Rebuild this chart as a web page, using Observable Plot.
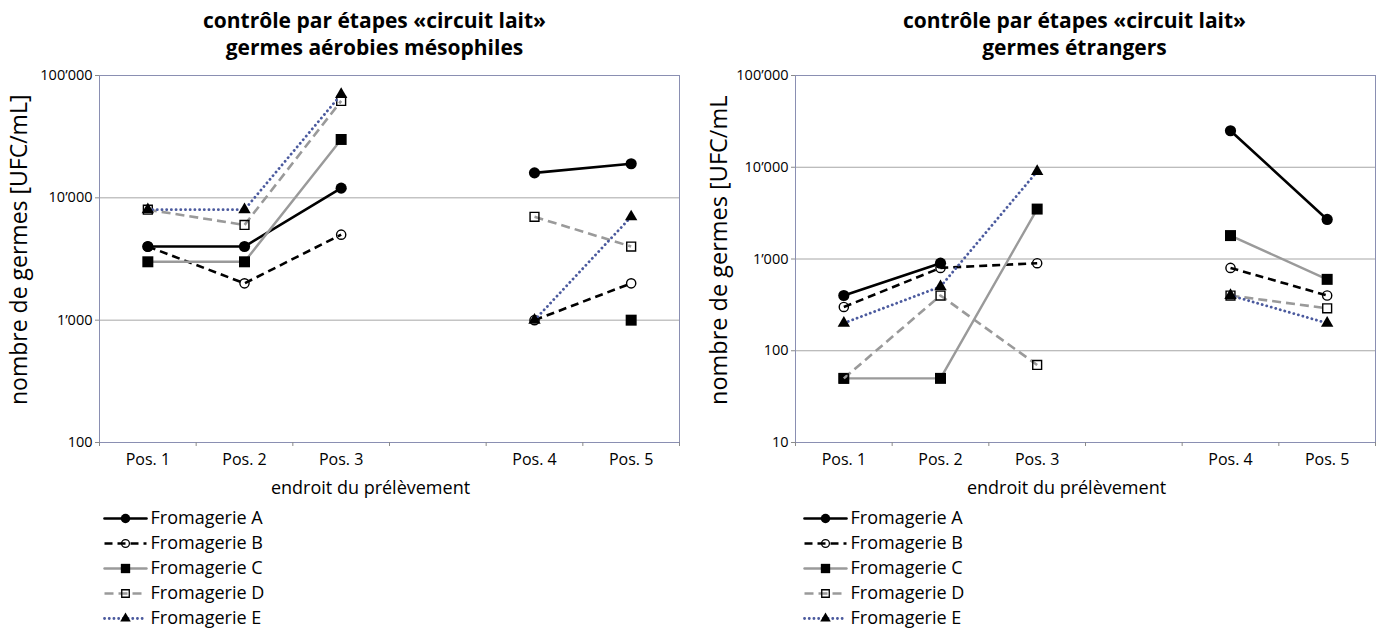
<!DOCTYPE html>
<html><head><meta charset="utf-8">
<script src="https://cdn.jsdelivr.net/npm/d3@7"></script>
<script src="https://cdn.jsdelivr.net/npm/@observablehq/plot@0.6"></script>
<style>
html,body{margin:0;padding:0;background:#fff;}
body{width:1378px;height:630px;overflow:hidden;position:relative;font-family:"Open Sans",sans-serif;color:#000;}
.panel{position:absolute;top:0;width:689px;height:630px;}
.title{position:absolute;top:7px;width:689px;text-align:center;font-weight:bold;font-size:21px;line-height:27px;}
.chart{position:absolute;top:55px;left:0;}
.legend{position:absolute;top:507px;}
svg{overflow:visible;}
</style>
</head><body>
<div class="panel" id="pL" style="left:0"><div class="title" id="tL" style="left:30px"></div><div class="chart" id="cL"></div><div class="legend" id="lL" style="left:104px"></div></div>
<div class="panel" id="pR" style="left:689px"><div class="title" id="tR" style="left:41px"></div><div class="chart" id="cR"></div><div class="legend" id="lR" style="left:115px"></div></div>
<script>
// ---- data ----
const categories = ["Pos. 1", "Pos. 2", "Pos. 3", "", "Pos. 4", "Pos. 5"];
const seriesNames = ["Fromagerie A", "Fromagerie B", "Fromagerie C", "Fromagerie D", "Fromagerie E"];

// germes aérobies mésophiles
const aerobA = [4000, 4000, 12000, null, 16000, 19000];
const aerobB = [4000, 2000, 5000, null, 1000, 2000];
const aerobC = [3000, 3000, 30000, null, null, 1000];
const aerobD = [8000, 6000, 62000, null, 7000, 4000];
const aerobE = [8000, 8000, 70000, null, 1000, 7000];

// germes étrangers
const etrA = [400, 900, null, null, 25000, 2700];
const etrB = [300, 800, 900, null, 800, 400];
const etrC = [50, 50, 3500, null, 1800, 600];
const etrD = [50, 400, 70, null, 400, 290];
const etrE = [200, 500, 9000, null, 400, 200];

const yTicksLeft = [100, 1000, 10000, 100000];
const yLabelsLeft = ["100", "1’000", "10’000", "100’000"];
const yTicksRight = [10, 100, 1000, 10000, 100000];
const yLabelsRight = ["10", "100", "1’000", "10’000", "100’000"];

const titleLine1 = "contrôle par étapes «circuit lait»";
const titleLeft2 = "germes aérobies mésophiles";
const titleRight2 = "germes étrangers";
const yTitleLeft = "nombre de germes [UFC/mL]";
const yTitleRight = "nombre de germes [UFC/mL";
const xTitle = "endroit du prélèvement";

// ---- styles ----
const seriesStyle = [
  {stroke: "#000", strokeWidth: 2.6, dash: null, cap: "round", symbol: "circle", fill: "#000", dotStroke: "none", r: 5.6},
  {stroke: "#000", strokeWidth: 2.6, dash: "8,5", cap: "butt", symbol: "circle", fill: "none", dotStroke: "#000", r: 4.6},
  {stroke: "#9a9a9a", strokeWidth: 2.4, dash: null, cap: "round", symbol: "square", fill: "#000", dotStroke: "none", r: 6.2},
  {stroke: "#9a9a9a", strokeWidth: 2.6, dash: "9,5", cap: "butt", symbol: "square", fill: "none", dotStroke: "#000", r: 5},
  {stroke: "#4b5a9e", strokeWidth: 2.8, dash: "0.1,4.6", cap: "round", symbol: "triangle", fill: "#000", dotStroke: "none", r: 4.6}
];
const FONT = "Open Sans, sans-serif";

function seriesMarks(values, st) {
  const rows = categories.map((c, i) => ({x: i, y: values[i]}));
  const pts = rows.filter(d => d.y != null);
  return [
    Plot.line(rows, {x: "x", y: "y", stroke: st.stroke, strokeWidth: st.strokeWidth,
      strokeDasharray: st.dash || undefined, strokeLinecap: st.cap, strokeLinejoin: "round"}),
    Plot.dot(pts, {x: "x", y: "y", symbol: st.symbol, r: st.r, fill: st.fill,
      stroke: st.dotStroke, strokeWidth: st.dotStroke === "none" ? 0 : 1.4})
  ];
}

function chart({values, yDomain, yTicks, yLabels, yTitle, marginLeft, yTitleDx, yTitleSize}) {
  return Plot.plot({
    width: 689, height: 450,
    marginLeft, marginRight: 689 - marginLeft - 580, marginTop: 20, marginBottom: 63,
    style: {fontFamily: FONT, background: "transparent", color: "#000"},
    x: {type: "linear", domain: [-0.5, 5.5]},
    y: {type: "log", domain: yDomain},
    marks: [
      Plot.ruleY(yTicks, {stroke: "#a6a6a6", strokeWidth: 1}),
      Plot.frame({stroke: "#8a8fb2", strokeWidth: 1}),
      Plot.axisY(yTicks, {tickSize: 4, tickPadding: 3, stroke: "#8a8a8a", fontSize: 14.5,
        tickFormat: d => yLabels[yTicks.indexOf(d)], label: null}),
      Plot.axisX(d3.range(6), {tickSize: 0, tickPadding: 11, fontSize: 16,
        tickFormat: i => categories[i], label: null}),
      Plot.axisX(d3.range(7).map(i => i - 0.5), {tickSize: 4, stroke: "#8a8a8a", tickFormat: () => "", label: null}),
      Plot.text([yTitle], {text: d => d, frameAnchor: "left", textAnchor: "start", rotate: -90, dx: yTitleDx, dy: 146, fontSize: yTitleSize}),
      Plot.text([xTitle], {text: d => d, frameAnchor: "bottom", textAnchor: "middle", dy: 51, dx: -19, fontSize: 18}),
      ...values.flatMap((v, k) => seriesMarks(v, seriesStyle[k]))
    ]
  });
}

function legend() {
  return Plot.plot({
    width: 200, height: 122, marginLeft: 0, marginRight: 0, marginTop: 10, marginBottom: 11,
    style: {fontFamily: FONT, background: "transparent"},
    x: {type: "linear", domain: [0, 42], range: [0, 42], axis: null},
    y: {type: "point", domain: seriesNames, range: [10, 111], padding: 0, axis: null},
    marks: [
      ...seriesNames.flatMap((n, k) => {
        const st = seriesStyle[k];
        return [
          Plot.line([{x: 0, y: n}, {x: 42, y: n}], {x: "x", y: "y", stroke: st.stroke, strokeWidth: st.strokeWidth,
            strokeDasharray: st.dash || undefined, strokeLinecap: st.cap}),
          Plot.dot([{x: 21, y: n}], {x: "x", y: "y", symbol: st.symbol, r: st.r * 0.85, fill: st.fill,
            stroke: st.dotStroke, strokeWidth: st.dotStroke === "none" ? 0 : 1.3})
        ];
      }),
      Plot.text(seriesNames, {x: () => 46, y: d => d, text: d => d, textAnchor: "start", fontSize: 18})
    ]
  });
}

document.getElementById("tL").innerHTML = titleLine1 + "<br>" + titleLeft2;
document.getElementById("tR").innerHTML = titleLine1 + "<br>" + titleRight2;

document.getElementById("cL").append(chart({
  values: [aerobA, aerobB, aerobC, aerobD, aerobE],
  yDomain: [100, 100000], yTicks: yTicksLeft, yLabels: yLabelsLeft,
  yTitle: yTitleLeft, marginLeft: 99, yTitleDx: -80, yTitleSize: 23
}));
document.getElementById("cR").append(chart({
  values: [etrA, etrB, etrC, etrD, etrE],
  yDomain: [10, 100000], yTicks: yTicksRight, yLabels: yLabelsRight,
  yTitle: yTitleRight, marginLeft: 106, yTitleDx: -76, yTitleSize: 23.5
}));
document.getElementById("lL").append(legend());
document.getElementById("lR").append(legend());
</script>
</body></html>
